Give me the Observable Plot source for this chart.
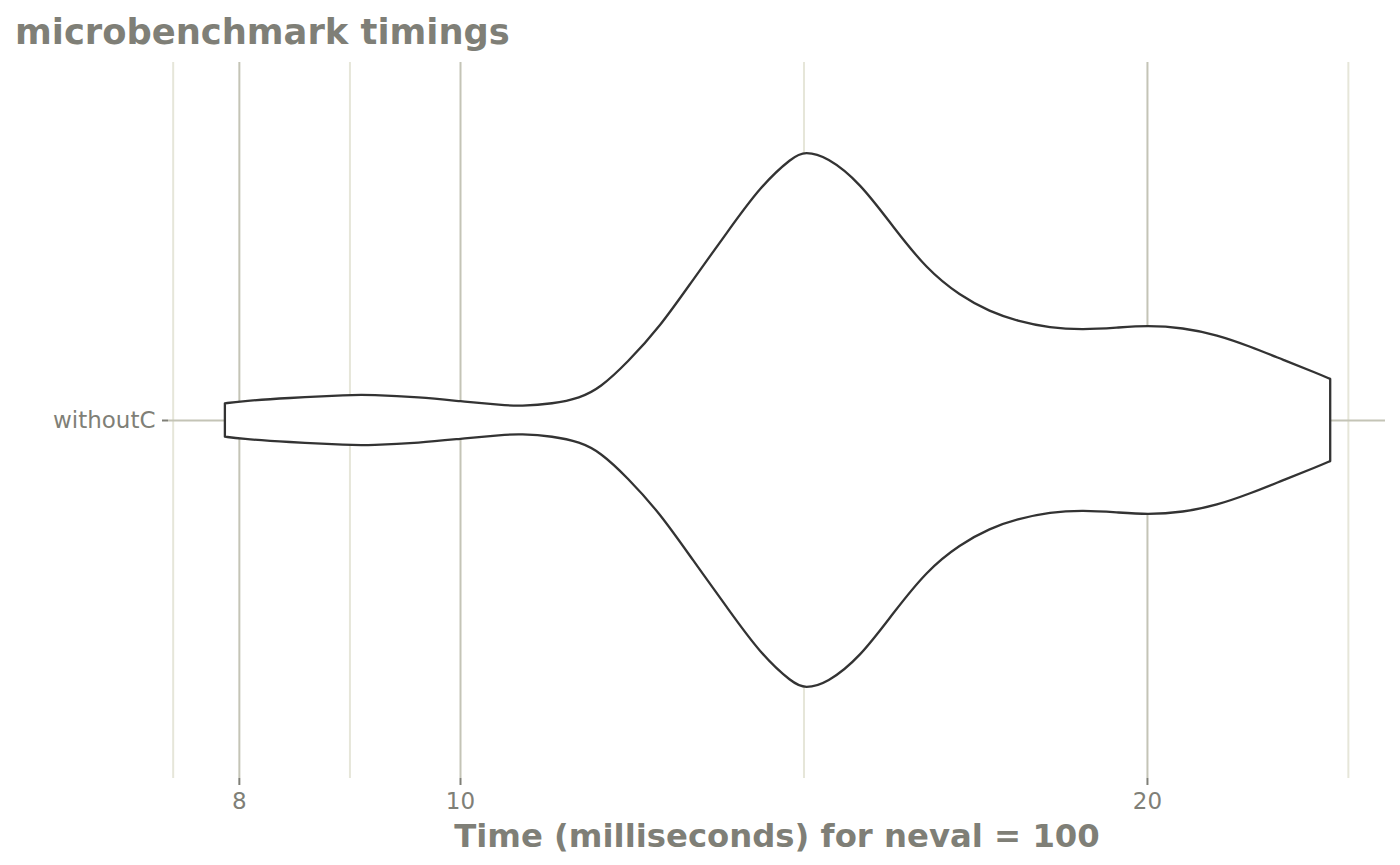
<!DOCTYPE html>
<html>
<head>
<meta charset="utf-8">
<script src="https://cdn.jsdelivr.net/npm/d3@7"></script>
<script src="https://cdn.jsdelivr.net/npm/@observablehq/plot@0.6"></script>
<style>
  html, body { margin: 0; padding: 0; background: #ffffff; }
  body { width: 1400px; height: 865px; overflow: hidden; font-family: "DejaVu Sans", sans-serif; }
  #title { height: 58px; margin: 0; padding: 11px 0 0 15px; box-sizing: border-box;
           font: bold 35.3px/42px "DejaVu Sans", sans-serif; color: #7f7f77; white-space: nowrap; }
  #chart svg { display: block; }
</style>
</head>
<body>
<div id="title">microbenchmark timings</div>
<div id="chart"></div>
<script>
// Category shown on the y axis
const categories = ["withoutC"];
// Violin profile: time (ms) and relative density (max = 1)
const times = [7.888, 8.009, 8.399, 8.950, 9.132, 9.605, 10.000, 10.443, 10.624, 10.983,
  11.287, 11.517, 11.837, 12.235, 12.649, 13.092, 13.535, 13.993, 14.163, 14.481,
  14.971, 15.478, 16.019, 16.562, 17.071, 17.542, 18.136, 18.751, 19.409, 20.000,
  20.741, 21.466, 22.194, 22.947, 23.749, 24.062];
const density = [0.062, 0.070, 0.082, 0.094, 0.094, 0.085, 0.070, 0.055, 0.052, 0.060,
  0.082, 0.119, 0.213, 0.347, 0.522, 0.698, 0.869, 0.981, 1.000, 0.981,
  0.884, 0.720, 0.560, 0.463, 0.403, 0.369, 0.343, 0.336, 0.344, 0.352,
  0.344, 0.317, 0.274, 0.224, 0.174, 0.153];
// Axis breaks (log scale)
const majorBreaks = [7, 8, 10, 20, 30];
const tickLabels = ["8", "10", "20"];
const xTitle = "Time (milliseconds) for neval = 100";

const violin = times.map((t, i) => ({t, d: density[i]}));
const halfWidth = 0.45;
const minorBreaks = majorBreaks.slice(1).map((b, i) => Math.sqrt(b * majorBreaks[i]));
const tickValues = tickLabels.map(Number);

const textColor = "#7f7f77";
const chart = Plot.plot({
  width: 1400,
  height: 807,
  marginTop: 4,
  marginBottom: 87,
  marginLeft: 168,
  marginRight: 15,
  style: {fontFamily: "DejaVu Sans, sans-serif", background: "#ffffff"},
  x: {type: "log", domain: [7.448, 25.43]},
  y: {domain: [-0.6, 0.6]},
  marks: [
    Plot.gridX(minorBreaks, {stroke: "#e6e6d9", strokeOpacity: 1, strokeWidth: 2}),
    Plot.gridX(tickValues, {stroke: "#c4c4b6", strokeOpacity: 1, strokeWidth: 2}),
    Plot.gridY([0], {stroke: "#c4c4b6", strokeOpacity: 1, strokeWidth: 2}),
    Plot.areaY(violin, {
      x: "t",
      y1: d => -d.d * halfWidth,
      y2: d => d.d * halfWidth,
      curve: "basis",
      fill: "#ffffff",
      stroke: "#333333",
      strokeWidth: 2.3
    }),
    Plot.axisX(tickValues, {
      tickFormat: d => tickLabels[tickValues.indexOf(d)],
      tickSize: 7, tickPadding: 7, fontSize: 23,
      stroke: "#7f7f77", fill: textColor, strokeWidth: 2, label: null
    }),
    Plot.axisY([0], {
      tickFormat: () => categories[0],
      tickSize: 6, tickPadding: 7, fontSize: 23,
      stroke: "#7f7f77", fill: textColor, strokeWidth: 2, label: null
    }),
    Plot.text([xTitle], {
      text: d => d,
      frameAnchor: "bottom",
      lineAnchor: "bottom",
      dy: 68,
      fontSize: 32.3,
      fontWeight: "bold",
      fill: textColor
    })
  ]
});
document.getElementById("chart").appendChild(chart);
</script>
</body>
</html>
